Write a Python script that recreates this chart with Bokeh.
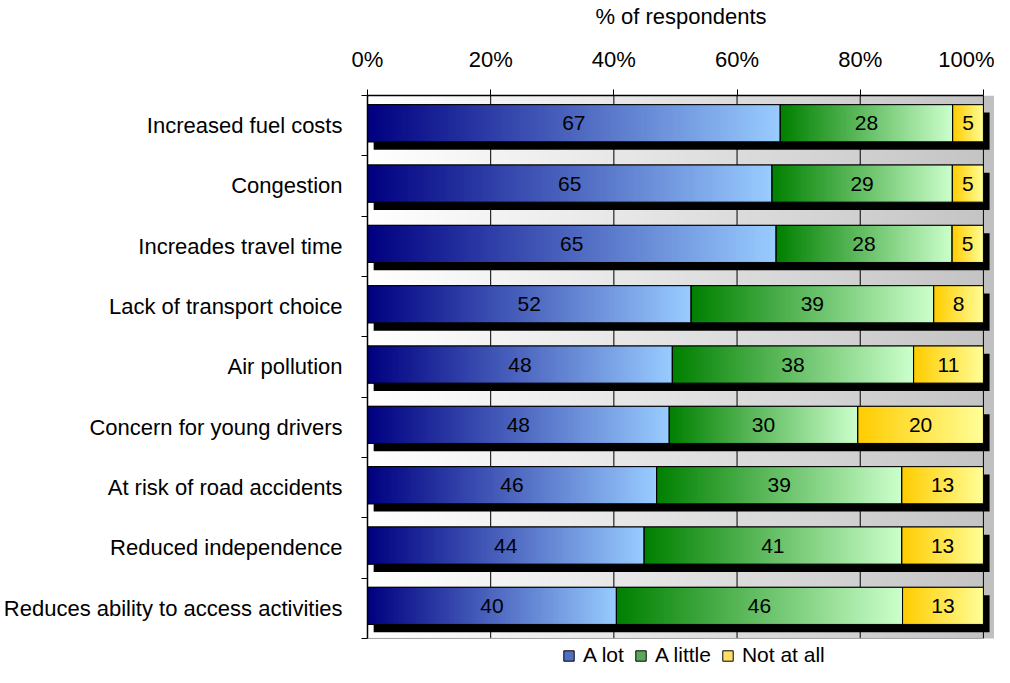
import numpy as np
from bokeh.plotting import figure
from bokeh.models import Range1d, FixedTicker, Legend, LegendItem
from bokeh.embed import file_html
from bokeh.resources import INLINE
from bokeh.core.properties import value

# ---------------- data ----------------
categories = [
    "Increased fuel costs",
    "Congestion",
    "Increades travel time",
    "Lack of transport choice",
    "Air pollution",
    "Concern for young drivers",
    "At risk of road accidents",
    "Reduced independence",
    "Reduces ability to access activities",
]
a_lot = [67, 65, 65, 52, 48, 48, 46, 44, 40]
a_little = [28, 29, 28, 39, 38, 30, 39, 41, 46]
not_at_all = [5, 5, 5, 8, 11, 20, 13, 13, 13]
series_names = ["A lot", "A little", "Not at all"]
x_ticks = [0, 20, 40, 60, 80, 100]
x_tick_labels = ["0%", "20%", "40%", "60%", "80%", "100%"]
axis_title = "% of respondents"

# ---------------- styles ----------------
FONT = "Liberation Sans"
GRADS = [((0x00, 0x00, 0x80), (0x99, 0xCC, 0xFF)),
         ((0x00, 0x80, 0x00), (0xCC, 0xFF, 0xCC)),
         ((0xFF, 0xCC, 0x00), (0xFF, 0xFF, 0x99))]
LEGEND_COLORS = ["#4f6fc0", "#5aa85a", "#ffe066"]
BAR_H = 0.615
BAR_OFF = 0.04
SH_DX = 1.0
SH_DY = -0.13
FIG_W = 994
FIG_H = 667
LEFT = 358
TOP = 87
X_END = 101.8
PX_PER_UNIT = 60.22
LEGEND_ROOM = 29  # px below the category area


def gradient_row(c0, c1, steps=160):
    img = np.empty((1, steps), dtype=np.uint32)
    view = img.view(dtype=np.uint8).reshape((1, steps, 4))
    t = np.linspace(0.0, 1.0, steps)
    for k in range(3):
        view[0, :, k] = np.round(c0[k] + (c1[k] - c0[k]) * t).astype(np.uint8)
    view[0, :, 3] = 255
    return img


n = len(categories)
ys = np.array([n - 1 - i for i in range(n)], dtype=float)
vals = np.array([a_lot, a_little, not_at_all], dtype=float)
totals = vals.sum(axis=0)
shares = vals / totals * 100.0
rights = np.cumsum(shares, axis=0)
lefts = rights - shares

y_lo = -0.5
y_hi = n - 0.5
p = figure(width=FIG_W, height=FIG_H,
           x_range=Range1d(0, X_END),
           y_range=Range1d(y_lo - LEGEND_ROOM / PX_PER_UNIT, y_hi),
           x_axis_location="above", output_backend="svg", toolbar_location=None,
           min_border_left=LEFT, min_border_right=0, min_border_top=TOP, min_border_bottom=0)
p.outline_line_color = None
p.xgrid.visible = False
p.ygrid.visible = False
p.background_fill_color = "white"
p.border_fill_color = "white"

# plot-area background gradient and right wall
p.image_rgba(image=[gradient_row((255, 255, 255), (0xC4, 0xC4, 0xC4), 256)],
             x=[0], y=[y_lo], dw=[100], dh=[n])
p.quad(left=[100], right=[X_END], bottom=[y_lo], top=[y_hi],
       fill_color="#c0c0c0", line_color=None)
# vertical gridlines
grid_x = [t for t in x_ticks if t > 0]
p.segment(x0=grid_x, x1=grid_x, y0=[y_lo] * len(grid_x), y1=[y_hi] * len(grid_x),
          line_color="#000000", line_width=1)
p.segment(x0=[0], x1=[100], y0=[y_lo], y1=[y_lo], line_color="#a0a0a0", line_width=1)

# shadows
p.quad(left=lefts[0] + SH_DX, right=rights[-1] + SH_DX,
       bottom=ys + BAR_OFF - BAR_H / 2 + SH_DY, top=ys + BAR_OFF + BAR_H / 2 + SH_DY,
       fill_color="black", line_color=None)

# solid base segments (used for the legend), then gradients, then outlines
legend_renderers = []
for s in range(3):
    r = p.quad(left=lefts[s], right=rights[s],
               bottom=ys + BAR_OFF - BAR_H / 2, top=ys + BAR_OFF + BAR_H / 2,
               fill_color=LEGEND_COLORS[s], line_color="black", line_width=1)
    legend_renderers.append(r)
for s in range(3):
    img = gradient_row(*GRADS[s])
    p.image_rgba(image=[img] * n, x=lefts[s], y=ys + BAR_OFF - BAR_H / 2,
                 dw=shares[s], dh=[BAR_H] * n)
for s in range(3):
    p.quad(left=lefts[s], right=rights[s],
           bottom=ys + BAR_OFF - BAR_H / 2, top=ys + BAR_OFF + BAR_H / 2,
           fill_color=None, line_color="black", line_width=1)
    p.text(x=(lefts[s] + rights[s]) / 2, y=ys + BAR_OFF,
           text=[str(int(v)) for v in vals[s]],
           text_align="center", text_baseline="middle",
           text_font=value(FONT), text_font_size="21px", text_color="black")

# top axis
xa = p.xaxis[0]
xa.ticker = FixedTicker(ticks=x_ticks)
xa.major_label_overrides = {t: lab for t, lab in zip(x_ticks, x_tick_labels)}
xa.bounds = (0, 100)
xa.axis_line_color = "black"
xa.axis_line_width = 1.5
xa.major_tick_in = 0
xa.major_tick_out = 6
xa.major_tick_line_color = "black"
xa.minor_tick_line_color = None
xa.major_label_standoff = 18
xa.major_label_text_font = FONT
xa.major_label_text_font_size = "22px"
xa.major_label_text_color = "black"
xa.axis_label = axis_title
xa.axis_label_standoff = 15
xa.axis_label_text_font = FONT
xa.axis_label_text_font_size = "22px"
xa.axis_label_text_font_style = "normal"
xa.axis_label_text_color = "black"

# left axis
ya = p.yaxis[0]
ya.ticker = FixedTicker(ticks=[int(y) for y in ys],
                        minor_ticks=[k - 0.5 for k in range(n + 1)])
ya.major_label_overrides = {int(y): c for y, c in zip(ys, categories)}
ya.bounds = (y_lo, y_hi)
ya.axis_line_color = "black"
ya.axis_line_width = 1.5
ya.major_tick_in = 0
ya.major_tick_out = 0
ya.minor_tick_in = 0
ya.minor_tick_out = 6
ya.minor_tick_line_color = "black"
ya.major_label_standoff = 19
ya.major_label_text_font = FONT
ya.major_label_text_font_size = "22px"
ya.major_label_text_color = "black"

legend = Legend(items=[LegendItem(label=nm, renderers=[r])
                       for nm, r in zip(series_names, legend_renderers)],
                orientation="horizontal", location=(195, 0),
                glyph_width=13, glyph_height=13, label_standoff=8, spacing=10,
                padding=2, margin=0, border_line_color=None, background_fill_alpha=0,
                label_text_font=FONT, label_text_font_size="21px", label_text_color="black")
p.add_layout(legend, "center")

open("out.html", "w").write(file_html(p, INLINE))
